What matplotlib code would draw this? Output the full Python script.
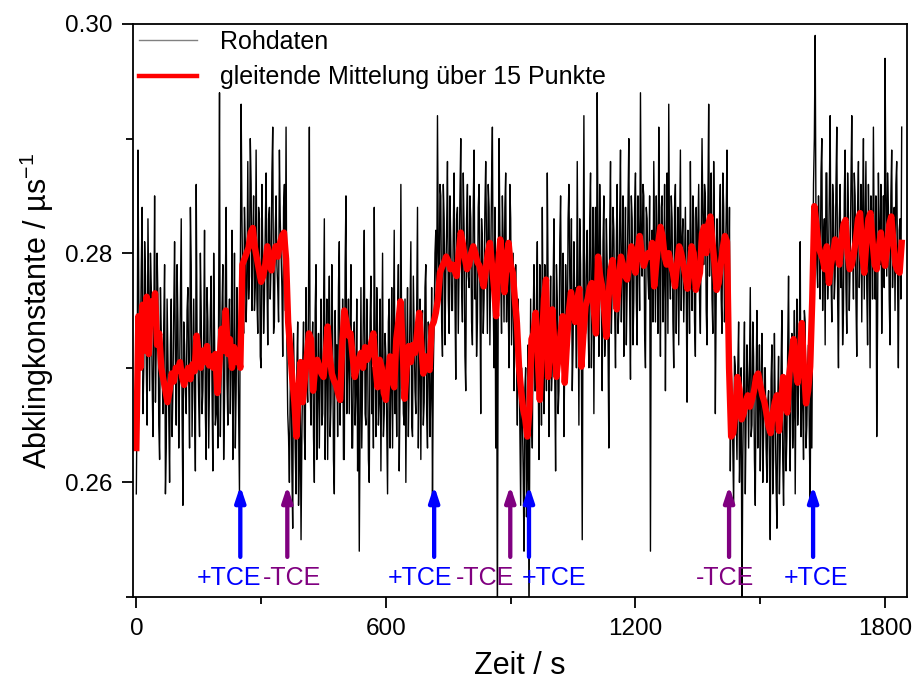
# Abklingkonstante vs. Zeit, Rohdaten + gleitende Mittelung

import numpy as np
import matplotlib
matplotlib.use("Agg")
import matplotlib.pyplot as plt
from matplotlib.ticker import MultipleLocator
from matplotlib.lines import Line2D

plt.rcParams['font.family'] = ['Liberation Sans', 'DejaVu Sans']
plt.rcParams['mathtext.fontset'] = 'custom'
plt.rcParams['mathtext.rm'] = 'Liberation Sans'
plt.rcParams['mathtext.it'] = 'Liberation Sans'

# raw data at t = 0, 4, 8, ... s (each line = 40 s)
raw = [
    0.259, 0.289, 0.271, 0.279, 0.266, 0.281, 0.270, 0.283, 0.268, 0.277,  # 0
    0.264, 0.285, 0.272, 0.276, 0.262, 0.273, 0.266, 0.279, 0.263, 0.271,  # 40
    0.260, 0.276, 0.268, 0.281, 0.265, 0.274, 0.269, 0.283, 0.258, 0.272,  # 80
    0.266, 0.277, 0.263, 0.279, 0.270, 0.267, 0.286, 0.271, 0.264, 0.275,  # 120
    0.268, 0.282, 0.262, 0.274, 0.269, 0.278, 0.261, 0.273, 0.266, 0.263,  # 160
    0.294, 0.270, 0.279, 0.267, 0.284, 0.265, 0.276, 0.271, 0.262, 0.280,  # 200
    0.268, 0.273, 0.259, 0.293, 0.276, 0.284, 0.274, 0.288, 0.278, 0.286,  # 240
    0.281, 0.275, 0.289, 0.273, 0.283, 0.270, 0.280, 0.276, 0.287, 0.272,  # 280
    0.284, 0.279, 0.291, 0.274, 0.285, 0.277, 0.289, 0.280, 0.271, 0.286,  # 320
    0.291, 0.266, 0.260, 0.271, 0.256, 0.268, 0.259, 0.274, 0.262, 0.255,  # 360
    0.270, 0.264, 0.277, 0.267, 0.291, 0.265, 0.274, 0.260, 0.279, 0.268,  # 400
    0.263, 0.276, 0.266, 0.283, 0.270, 0.262, 0.278, 0.267, 0.273, 0.259,  # 440
    0.269, 0.264, 0.281, 0.271, 0.276, 0.262, 0.285, 0.270, 0.266, 0.279,  # 480
    0.263, 0.274, 0.268, 0.261, 0.254, 0.277, 0.269, 0.282, 0.265, 0.272,  # 520
    0.260, 0.278, 0.270, 0.284, 0.264, 0.273, 0.267, 0.261, 0.280, 0.266,  # 560
    0.271, 0.259, 0.276, 0.268, 0.263, 0.282, 0.270, 0.274, 0.261, 0.286,  # 600
    0.272, 0.265, 0.260, 0.277, 0.269, 0.281, 0.264, 0.273, 0.266, 0.284,  # 640
    0.270, 0.262, 0.275, 0.267, 0.279, 0.263, 0.271, 0.268, 0.258, 0.274,  # 680
    0.282, 0.292, 0.276, 0.285, 0.271, 0.283, 0.278, 0.288, 0.273, 0.281,  # 720
    0.275, 0.287, 0.269, 0.284, 0.279, 0.290, 0.274, 0.282, 0.268, 0.286,  # 760
    0.277, 0.283, 0.272, 0.289, 0.280, 0.274, 0.286, 0.266, 0.281, 0.276,  # 800
    0.288, 0.273, 0.284, 0.279, 0.291, 0.270, 0.263, 0.247, 0.290, 0.278,  # 840
    0.285, 0.274, 0.287, 0.281, 0.270, 0.283, 0.276, 0.268, 0.279, 0.265,  # 880
    0.272, 0.258, 0.266, 0.254, 0.270, 0.261, 0.247, 0.276, 0.263, 0.279,  # 920
    0.268, 0.281, 0.262, 0.275, 0.284, 0.266, 0.273, 0.287, 0.264, 0.278,  # 960
    0.270, 0.283, 0.261, 0.276, 0.268, 0.285, 0.272, 0.264, 0.279, 0.270,  # 1000
    0.286, 0.274, 0.268, 0.281, 0.277, 0.288, 0.265, 0.279, 0.255, 0.292,  # 1040
    0.273, 0.282, 0.270, 0.287, 0.276, 0.266, 0.284, 0.294, 0.271, 0.280,  # 1080
    0.268, 0.285, 0.274, 0.279, 0.263, 0.288, 0.277, 0.282, 0.270, 0.286,  # 1120
    0.275, 0.289, 0.279, 0.271, 0.284, 0.277, 0.290, 0.269, 0.283, 0.276,  # 1160
    0.287, 0.272, 0.281, 0.294, 0.278, 0.285, 0.270, 0.283, 0.276, 0.254,  # 1200
    0.282, 0.288, 0.274, 0.280, 0.291, 0.271, 0.285, 0.278, 0.268, 0.287,  # 1240
    0.293, 0.276, 0.283, 0.270, 0.286, 0.279, 0.272, 0.289, 0.281, 0.274,  # 1280
    0.284, 0.267, 0.280, 0.288, 0.275, 0.283, 0.271, 0.278, 0.286, 0.273,  # 1320
    0.290, 0.279, 0.285, 0.272, 0.293, 0.281, 0.276, 0.288, 0.266, 0.283,  # 1360
    0.277, 0.286, 0.273, 0.284, 0.279, 0.289, 0.275, 0.261, 0.268, 0.258,  # 1400
    0.270, 0.262, 0.274, 0.264, 0.248, 0.269, 0.259, 0.272, 0.263, 0.277,  # 1440
    0.265, 0.271, 0.258, 0.275, 0.267, 0.261, 0.273, 0.264, 0.270, 0.260,  # 1480
    0.268, 0.255, 0.272, 0.262, 0.266, 0.256, 0.271, 0.263, 0.275, 0.258,  # 1520
    0.269, 0.264, 0.278, 0.261, 0.273, 0.266, 0.259, 0.276, 0.268, 0.281,  # 1560
    0.270, 0.262, 0.274, 0.265, 0.272, 0.258, 0.263, 0.286, 0.299, 0.279,  # 1600
    0.285, 0.276, 0.290, 0.281, 0.272, 0.287, 0.279, 0.292, 0.274, 0.284,  # 1640
    0.278, 0.291, 0.270, 0.286, 0.281, 0.275, 0.289, 0.273, 0.283, 0.279,  # 1680
    0.292, 0.276, 0.285, 0.271, 0.288, 0.280, 0.274, 0.290, 0.282, 0.277,  # 1720
    0.286, 0.270, 0.283, 0.291, 0.276, 0.264, 0.287, 0.279, 0.273, 0.285,  # 1760
    0.297, 0.278, 0.284, 0.272, 0.289, 0.281, 0.275, 0.288, 0.270, 0.283,  # 1800
    0.291,                                                                  # 1840
]

# raw data at t = 2, 6, 10, ... s (each line = 40 s)
raw_mid = [
    0.268, 0.276, 0.272, 0.284, 0.270, 0.278, 0.265, 0.275, 0.280, 0.269,  # 2
    0.273, 0.267, 0.280, 0.265, 0.277, 0.270, 0.274, 0.259, 0.276, 0.266,  # 42
    0.272, 0.264, 0.275, 0.270, 0.279, 0.263, 0.276, 0.266, 0.274, 0.268,  # 82
    0.275, 0.269, 0.284, 0.264, 0.276, 0.261, 0.273, 0.267, 0.280, 0.266,  # 122
    0.273, 0.266, 0.277, 0.263, 0.275, 0.268, 0.280, 0.265, 0.271, 0.276,  # 162
    0.264, 0.275, 0.262, 0.277, 0.269, 0.273, 0.266, 0.282, 0.269, 0.263,  # 202
    0.277, 0.266, 0.278, 0.283, 0.273, 0.281, 0.277, 0.276, 0.290, 0.275,  # 242
    0.285, 0.277, 0.276, 0.284, 0.271, 0.286, 0.273, 0.282, 0.278, 0.283,  # 282
    0.276, 0.287, 0.273, 0.282, 0.279, 0.274, 0.283, 0.277, 0.284, 0.275,  # 322
    0.272, 0.264, 0.268, 0.261, 0.273, 0.263, 0.270, 0.258, 0.268, 0.264,  # 362
    0.274, 0.262, 0.269, 0.276, 0.268, 0.271, 0.264, 0.275, 0.262, 0.273,  # 402
    0.270, 0.265, 0.274, 0.262, 0.276, 0.272, 0.264, 0.279, 0.262, 0.275,  # 442
    0.272, 0.277, 0.265, 0.267, 0.262, 0.279, 0.266, 0.276, 0.273, 0.263,  # 482
    0.271, 0.265, 0.276, 0.270, 0.266, 0.263, 0.275, 0.266, 0.276, 0.262,  # 522
    0.274, 0.266, 0.263, 0.272, 0.277, 0.265, 0.276, 0.270, 0.264, 0.273,  # 562
    0.265, 0.274, 0.263, 0.277, 0.272, 0.266, 0.264, 0.279, 0.268, 0.271,  # 602
    0.266, 0.276, 0.271, 0.264, 0.275, 0.265, 0.278, 0.268, 0.275, 0.263,  # 642
    0.276, 0.273, 0.265, 0.277, 0.266, 0.274, 0.264, 0.277, 0.270, 0.280,  # 682
    0.275, 0.280, 0.286, 0.274, 0.286, 0.272, 0.282, 0.276, 0.285, 0.275,  # 722
    0.282, 0.276, 0.283, 0.273, 0.285, 0.277, 0.287, 0.271, 0.283, 0.278,  # 762
    0.285, 0.274, 0.284, 0.276, 0.271, 0.284, 0.277, 0.283, 0.273, 0.284,  # 802
    0.280, 0.286, 0.272, 0.286, 0.276, 0.284, 0.279, 0.276, 0.282, 0.273,  # 842
    0.281, 0.284, 0.274, 0.276, 0.286, 0.272, 0.280, 0.274, 0.271, 0.276,  # 882
    0.265, 0.270, 0.261, 0.268, 0.257, 0.272, 0.265, 0.266, 0.274, 0.268,  # 922
    0.276, 0.270, 0.279, 0.265, 0.273, 0.279, 0.268, 0.277, 0.272, 0.268,  # 962
    0.277, 0.269, 0.279, 0.266, 0.281, 0.274, 0.280, 0.271, 0.276, 0.283,  # 1002
    0.278, 0.283, 0.272, 0.276, 0.270, 0.277, 0.283, 0.270, 0.276, 0.273,  # 1042
    0.279, 0.274, 0.283, 0.270, 0.284, 0.279, 0.273, 0.280, 0.286, 0.275,  # 1082
    0.281, 0.271, 0.283, 0.272, 0.282, 0.273, 0.284, 0.275, 0.281, 0.273,  # 1122
    0.283, 0.274, 0.285, 0.279, 0.272, 0.284, 0.276, 0.285, 0.272, 0.284,  # 1162
    0.276, 0.285, 0.275, 0.281, 0.286, 0.273, 0.284, 0.278, 0.285, 0.279,  # 1202
    0.274, 0.281, 0.285, 0.273, 0.279, 0.284, 0.274, 0.286, 0.280, 0.273,  # 1242
    0.279, 0.285, 0.274, 0.284, 0.273, 0.284, 0.281, 0.275, 0.283, 0.279,  # 1282
    0.277, 0.282, 0.273, 0.279, 0.285, 0.274, 0.284, 0.282, 0.276, 0.282,  # 1322
    0.283, 0.286, 0.275, 0.284, 0.278, 0.287, 0.273, 0.282, 0.276, 0.279,  # 1362
    0.283, 0.276, 0.287, 0.274, 0.283, 0.278, 0.284, 0.270, 0.263, 0.271,  # 1402
    0.266, 0.270, 0.260, 0.270, 0.262, 0.274, 0.266, 0.269, 0.270, 0.264,  # 1442
    0.274, 0.262, 0.269, 0.263, 0.272, 0.268, 0.260, 0.270, 0.263, 0.267,  # 1482
    0.262, 0.269, 0.259, 0.273, 0.260, 0.267, 0.259, 0.270, 0.262, 0.266,  # 1522
    0.261, 0.272, 0.266, 0.270, 0.263, 0.275, 0.270, 0.265, 0.273, 0.264,  # 1562
    0.267, 0.275, 0.263, 0.270, 0.264, 0.273, 0.276, 0.290, 0.282, 0.277,  # 1602
    0.281, 0.287, 0.275, 0.283, 0.287, 0.276, 0.285, 0.278, 0.286, 0.276,  # 1642
    0.286, 0.276, 0.283, 0.277, 0.272, 0.285, 0.277, 0.287, 0.275, 0.286,  # 1682
    0.281, 0.287, 0.276, 0.284, 0.277, 0.286, 0.283, 0.276, 0.288, 0.272,  # 1722
    0.281, 0.285, 0.276, 0.280, 0.285, 0.274, 0.282, 0.286, 0.280, 0.277,  # 1762
    0.285, 0.287, 0.276, 0.285, 0.277, 0.284, 0.286, 0.278, 0.282, 0.276,  # 1802
]

# moving average (15 points), one value every 5 s, each line = 40 s
avg_step = 5
avg = [
    0.2630, 0.2745, 0.2700, 0.2755, 0.2715, 0.2762, 0.2712, 0.2758,  # 0
    0.2740, 0.2765, 0.2720, 0.2730, 0.2700, 0.2690, 0.2680, 0.2670,  # 40
    0.2680, 0.2695, 0.2688, 0.2700, 0.2698, 0.2705, 0.2692, 0.2685,  # 80
    0.2695, 0.2700, 0.2690, 0.2703, 0.2697, 0.2728, 0.2712, 0.2700,  # 120
    0.2715, 0.2705, 0.2719, 0.2702, 0.2710, 0.2700, 0.2712, 0.2678,  # 160
    0.2705, 0.2734, 0.2715, 0.2750, 0.2712, 0.2725, 0.2700, 0.2718,  # 200
    0.2705, 0.2712, 0.2700, 0.2790, 0.2795, 0.2800, 0.2805, 0.2818,  # 240
    0.2822, 0.2805, 0.2795, 0.2785, 0.2775, 0.2780, 0.2790, 0.2806,  # 280
    0.2790, 0.2785, 0.2800, 0.2806, 0.2797, 0.2808, 0.2815, 0.2818,  # 320
    0.2795, 0.2740, 0.2716, 0.2690, 0.2670, 0.2640, 0.2680, 0.2705,  # 360
    0.2670, 0.2690, 0.2710, 0.2730, 0.2725, 0.2680, 0.2700, 0.2707,  # 400
    0.2700, 0.2695, 0.2692, 0.2710, 0.2736, 0.2710, 0.2695, 0.2689,  # 440
    0.2685, 0.2678, 0.2672, 0.2720, 0.2750, 0.2740, 0.2728, 0.2730,  # 480
    0.2710, 0.2692, 0.2700, 0.2708, 0.2713, 0.2700, 0.2718, 0.2707,  # 520
    0.2712, 0.2722, 0.2730, 0.2700, 0.2683, 0.2707, 0.2700, 0.2678,  # 560
    0.2672, 0.2695, 0.2710, 0.2690, 0.2683, 0.2725, 0.2740, 0.2758,  # 600
    0.2720, 0.2673, 0.2700, 0.2719, 0.2705, 0.2720, 0.2713, 0.2730,  # 640
    0.2748, 0.2720, 0.2695, 0.2710, 0.2702, 0.2698, 0.2736, 0.2740,  # 680
    0.2748, 0.2760, 0.2783, 0.2788, 0.2792, 0.2797, 0.2793, 0.2786,  # 720
    0.2790, 0.2785, 0.2780, 0.2800, 0.2818, 0.2808, 0.2795, 0.2786,  # 760
    0.2790, 0.2800, 0.2806, 0.2800, 0.2792, 0.2789, 0.2780, 0.2771,  # 800
    0.2785, 0.2800, 0.2809, 0.2790, 0.2770, 0.2745, 0.2790, 0.2812,  # 840
    0.2795, 0.2766, 0.2790, 0.2809, 0.2790, 0.2783, 0.2760, 0.2739,  # 880
    0.2701, 0.2680, 0.2664, 0.2655, 0.2640, 0.2664, 0.2725, 0.2730,  # 920
    0.2748, 0.2710, 0.2672, 0.2720, 0.2760, 0.2777, 0.2692, 0.2720,  # 960
    0.2751, 0.2720, 0.2692, 0.2710, 0.2730, 0.2745, 0.2687, 0.2720,  # 1000
    0.2750, 0.2766, 0.2750, 0.2740, 0.2760, 0.2769, 0.2701, 0.2730,  # 1040
    0.2754, 0.2760, 0.2770, 0.2774, 0.2750, 0.2730, 0.2797, 0.2780,  # 1080
    0.2771, 0.2750, 0.2727, 0.2760, 0.2785, 0.2794, 0.2770, 0.2751,  # 1120
    0.2775, 0.2797, 0.2790, 0.2780, 0.2777, 0.2790, 0.2806, 0.2795,  # 1160
    0.2783, 0.2800, 0.2815, 0.2800, 0.2789, 0.2795, 0.2800, 0.2797,  # 1200
    0.2809, 0.2771, 0.2790, 0.2810, 0.2823, 0.2815, 0.2797, 0.2790,  # 1240
    0.2800, 0.2790, 0.2783, 0.2771, 0.2790, 0.2806, 0.2800, 0.2790,  # 1280
    0.2780, 0.2769, 0.2785, 0.2806, 0.2800, 0.2768, 0.2775, 0.2783,  # 1320
    0.2817, 0.2823, 0.2800, 0.2825, 0.2832, 0.2810, 0.2791, 0.2768,  # 1360
    0.2774, 0.2790, 0.2805, 0.2815, 0.2810, 0.2700, 0.2640, 0.2643,  # 1400
    0.2660, 0.2692, 0.2681, 0.2655, 0.2660, 0.2670, 0.2676, 0.2666,  # 1440
    0.2672, 0.2680, 0.2692, 0.2695, 0.2685, 0.2676, 0.2670, 0.2660,  # 1480
    0.2649, 0.2643, 0.2660, 0.2670, 0.2676, 0.2645, 0.2670, 0.2692,  # 1520
    0.2670, 0.2661, 0.2695, 0.2710, 0.2725, 0.2700, 0.2687, 0.2710,  # 1560
    0.2739, 0.2700, 0.2669, 0.2680, 0.2701, 0.2760, 0.2841, 0.2825,  # 1600
    0.2806, 0.2800, 0.2795, 0.2786, 0.2806, 0.2774, 0.2790, 0.2800,  # 1640
    0.2812, 0.2800, 0.2790, 0.2810, 0.2825, 0.2829, 0.2800, 0.2786,  # 1680
    0.2790, 0.2800, 0.2812, 0.2830, 0.2835, 0.2800, 0.2783, 0.2810,  # 1720
    0.2830, 0.2835, 0.2810, 0.2790, 0.2786, 0.2805, 0.2818, 0.2800,  # 1760
    0.2789, 0.2805, 0.2825, 0.2832, 0.2810, 0.2790, 0.2785, 0.2783,  # 1800
    0.2809,                                                          # 1840
]

# TCE additions / removals
event_times = [250, 363, 716, 899, 944, 1425, 1627]
event_labels = ['+TCE', '-TCE', '+TCE', '-TCE', '+TCE', '-TCE', '+TCE']
label_x = [222, 374, 682, 838, 1003, 1416, 1635]

# merge the two raw lists into one series, 2 s apart
raw_all = np.empty(len(raw) + len(raw_mid))
raw_all[0::2] = raw
raw_all[1::2] = raw_mid
t_raw = np.arange(len(raw_all)) * 2
t_avg = np.arange(len(avg)) * avg_step

fig = plt.figure(figsize=(9.14, 6.89), dpi=100)
ax = fig.add_axes([0.1455, 0.1335, 0.8465, 0.8317])

ax.plot(t_raw, raw_all, color='black', lw=1.0)
ax.plot(t_avg, avg, color='red', lw=4.6)

for t, lab, lx in zip(event_times, event_labels, label_x):
    c = 'blue' if lab.startswith('+') else 'purple'
    ax.annotate('', xy=(t, 0.2597), xytext=(t, 0.2535),
                arrowprops=dict(arrowstyle='-|>,head_length=0.9,head_width=0.3',
                                color=c, lw=3.1, shrinkA=0, shrinkB=0))
    ax.text(lx, 0.2517, lab, color=c, fontsize=18, ha='center', va='center')

ax.set_xlim(-8, 1852)
ax.set_ylim(0.25, 0.30)
ax.xaxis.set_major_locator(MultipleLocator(600))
ax.xaxis.set_minor_locator(MultipleLocator(300))
ax.yaxis.set_major_locator(MultipleLocator(0.02))
ax.yaxis.set_minor_locator(MultipleLocator(0.01))
ax.yaxis.set_major_formatter(plt.FormatStrFormatter('%.2f'))
ax.tick_params(which='major', direction='out', length=8, width=1.3,
               labelsize=17.5, pad=7)
ax.tick_params(which='minor', direction='out', length=5, width=1.3)
for s in ax.spines.values():
    s.set_linewidth(1.3)

ax.set_xlabel('Zeit / s', fontsize=22, labelpad=8)
ax.set_ylabel('Abklingkonstante / µs$^{-1}$', fontsize=22, labelpad=6)

handles = [Line2D([], [], color='gray', lw=1.0),
           Line2D([], [], color='red', lw=3.2)]
ax.legend(handles, ['Rohdaten', 'gleitende Mittelung über 15 Punkte'],
          loc='upper left', bbox_to_anchor=(0.0, 1.0), frameon=False,
          fontsize=18, handlelength=2.3, handletextpad=0.95,
          borderaxespad=0.0, borderpad=0.25, labelspacing=0.45)

plt.savefig('out.png', dpi=100)
